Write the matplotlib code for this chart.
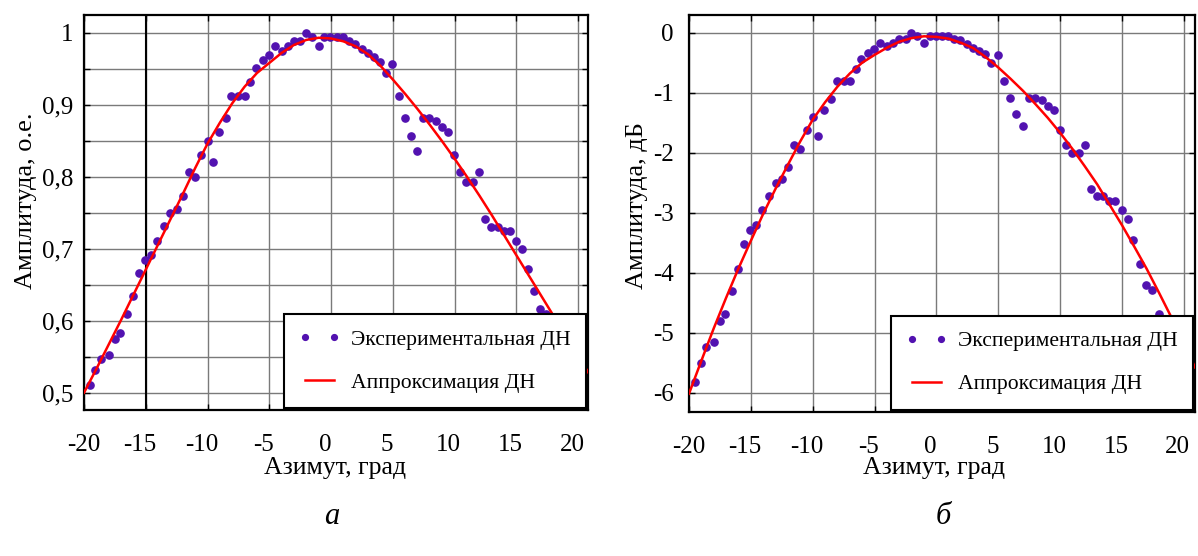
import matplotlib
matplotlib.use("Agg")
import matplotlib.pyplot as plt
import matplotlib.transforms as mtransforms

plt.rcParams['font.family'] = ['Liberation Serif', 'DejaVu Serif']

# Экспериментальные точки (азимут, град)
azimut = [-19.55, -19.07, -18.6, -18.0, -17.5, -17.05, -16.5, -16.04, -15.56, -15.03,
          -14.56, -14.1, -13.5, -13.0, -12.5, -11.97, -11.5, -11.0, -10.5, -10.0,
          -9.55, -9.06, -8.5, -8.07, -7.5, -7.0, -6.53, -6.07, -5.5, -5.05,
          -4.53, -4.0, -3.5, -3.0, -2.5, -2.02, -1.54, -1.0, -0.54, -0.05,
          0.49, 0.97, 1.46, 1.94, 2.48, 2.97, 3.45, 3.96, 4.45, 4.94,
          5.48, 5.96, 6.45, 6.98, 7.47, 7.95, 8.5, 8.98, 9.47, 9.98,
          10.46, 10.95, 11.49, 11.97, 12.46, 12.94, 13.48, 13.97, 14.45, 14.99,
          15.48, 15.91, 16.45, 16.94, 17.42, 17.95]

# амплитуда, о.е.
ampl = [0.511, 0.531, 0.547, 0.552, 0.575, 0.583, 0.609, 0.635, 0.666, 0.685,
        0.691, 0.711, 0.731, 0.749, 0.755, 0.773, 0.806, 0.800, 0.830, 0.850,
        0.820, 0.862, 0.881, 0.912, 0.912, 0.912, 0.932, 0.951, 0.962, 0.969,
        0.981, 0.975, 0.981, 0.988, 0.988, 1.000, 0.994, 0.981, 0.994, 0.994,
        0.994, 0.994, 0.988, 0.985, 0.978, 0.972, 0.966, 0.960, 0.944, 0.957,
        0.912, 0.882, 0.856, 0.836, 0.882, 0.882, 0.878, 0.869, 0.862, 0.830,
        0.806, 0.793, 0.793, 0.806, 0.741, 0.730, 0.730, 0.724, 0.724, 0.711,
        0.699, 0.672, 0.641, 0.616, 0.610, 0.583]

# амплитуда, дБ
ampl_db = [-5.83, -5.50, -5.24, -5.16, -4.81, -4.69, -4.31, -3.94, -3.53, -3.29,
           -3.21, -2.96, -2.72, -2.51, -2.44, -2.24, -1.87, -1.94, -1.62, -1.41,
           -1.72, -1.29, -1.10, -0.80, -0.80, -0.80, -0.61, -0.44, -0.34, -0.27,
           -0.17, -0.22, -0.17, -0.10, -0.10, 0.00, -0.05, -0.17, -0.05, -0.05,
           -0.05, -0.05, -0.10, -0.13, -0.19, -0.25, -0.30, -0.35, -0.50, -0.38,
           -0.80, -1.09, -1.35, -1.56, -1.09, -1.09, -1.13, -1.22, -1.29, -1.62,
           -1.87, -2.01, -2.01, -1.87, -2.60, -2.73, -2.73, -2.81, -2.81, -2.96,
           -3.11, -3.45, -3.86, -4.21, -4.29, -4.69]

# Аппроксимация ДН
az_fit = [-20, -19, -18, -17, -16, -15, -14, -13, -12, -11, -10, -9, -8, -7, -6, -5,
          -4, -3, -2, -1, 0, 1, 2, 3, 4, 5, 6, 7, 8, 9, 10, 11, 12, 13, 14, 15,
          16, 17, 18, 19, 20, 20.9]
ampl_fit = [0.500, 0.533, 0.567, 0.601, 0.636, 0.671, 0.706, 0.741, 0.776, 0.812,
            0.846, 0.875, 0.902, 0.925, 0.944, 0.958, 0.972, 0.983, 0.990, 0.993,
            0.992, 0.988, 0.981, 0.970, 0.954, 0.935, 0.915, 0.894, 0.872, 0.849,
            0.825, 0.800, 0.774, 0.747, 0.719, 0.691, 0.663, 0.635, 0.607, 0.579,
            0.551, 0.526]
db_fit = [-6.02, -5.47, -4.93, -4.42, -3.93, -3.47, -3.02, -2.60, -2.20, -1.81,
          -1.45, -1.16, -0.90, -0.68, -0.50, -0.37, -0.25, -0.15, -0.09, -0.06,
          -0.07, -0.10, -0.17, -0.26, -0.41, -0.58, -0.77, -0.97, -1.19, -1.42,
          -1.67, -1.94, -2.23, -2.53, -2.87, -3.21, -3.57, -3.94, -4.34, -4.75,
          -5.18, -5.58]

xticks = [-20, -15, -10, -5, 0, 5, 10, 15, 20]
xticklabels = ['-20', '-15', '-10', '-5', '0', '5', '10', '15', '20']
yticks1 = [0.5, 0.6, 0.7, 0.8, 0.9, 1.0]
yticks1_minor = [0.5, 0.55, 0.6, 0.65, 0.7, 0.75, 0.8, 0.85, 0.9, 0.95, 1.0]
yticklabels1 = ['0,5', '0,6', '0,7', '0,8', '0,9', '1']
yticks2 = [-6, -5, -4, -3, -2, -1, 0]
yticklabels2 = ['-6', '-5', '-4', '-3', '-2', '-1', '0']

dot_color = '#5212b0'
W, H = 1198, 556
fig = plt.figure(figsize=(W / 100, H / 100), dpi=100)
ax1 = fig.add_axes([84 / W, 1 - 410 / H, 504 / W, 395 / H])
ax2 = fig.add_axes([689 / W, 1 - 411.7 / H, 506 / W, 396.7 / H])
sdvig = mtransforms.ScaledTranslation(-6 / 100, 0, fig.dpi_scale_trans)


def oformit(ax):
    ax.set_xticks(xticks)
    ax.set_xticklabels(xticklabels)
    ax.grid(True, which='both', color='#7a7a7a', lw=1)
    ax.set_axisbelow(True)
    ax.tick_params(which='both', direction='in', top=True, right=True,
                   length=4, width=1, labelsize=18)
    ax.tick_params(axis='x', pad=17.5)
    for lab in ax.get_xticklabels()[1:]:
        lab.set_transform(lab.get_transform() + sdvig)
    for s in ax.spines.values():
        s.set_linewidth(1.6)
    ax.legend(loc='lower right', numpoints=2, fontsize=15.6, frameon=True,
              fancybox=False, framealpha=1, edgecolor='black',
              borderaxespad=0.1, borderpad=0.7, labelspacing=1.05,
              handlelength=1.9, handletextpad=0.5, markerscale=0.8
              ).get_frame().set_linewidth(1.5)


# а) амплитуда в относительных единицах
ax1.plot(azimut, ampl, 'o', ms=5.2, color=dot_color, zorder=2.5,
         label='Экспериментальная ДН')
ax1.plot(az_fit, ampl_fit, '-', color='red', lw=1.8, zorder=3,
         label='Аппроксимация ДН')
ax1.axvline(-15, color='black', lw=1.5, zorder=2)
ax1.set_yticks(yticks1)
ax1.set_yticklabels(yticklabels1)
ax1.set_yticks(yticks1_minor, minor=True)
ax1.set_xlim(-20, 20.8)
ax1.set_ylim(0.476, 1.0246)
ax1.tick_params(axis='y', pad=8)
ax1.set_xlabel('Азимут, град', fontsize=18.5)
ax1.set_ylabel('Амплитуда, о.е.', fontsize=19)
ax1.xaxis.set_label_coords(0.498, -0.118)
ax1.yaxis.set_label_coords(-0.093, 0.529)
oformit(ax1)

# б) амплитуда в дБ
ax2.plot(azimut, ampl_db, 'o', ms=5.2, color=dot_color, zorder=2.5,
         label='Экспериментальная ДН')
ax2.plot(az_fit, db_fit, '-', color='red', lw=1.8, zorder=3,
         label='Аппроксимация ДН')
ax2.set_yticks(yticks2)
ax2.set_yticklabels(yticklabels2)
ax2.set_xlim(-20, 20.9)
ax2.set_ylim(-6.32, 0.295)
ax2.tick_params(axis='y', pad=11)
ax2.set_xlabel('Азимут, град', fontsize=18.5)
ax2.set_ylabel('Амплитуда, дБ', fontsize=19)
ax2.xaxis.set_label_coords(0.484, -0.115)
ax2.yaxis.set_label_coords(-0.081, 0.519)
oformit(ax2)

fig.text(332 / W, 1 - 517 / H, 'а', fontsize=22, style='italic',
         ha='center', va='center')
fig.text(943 / W, 1 - 517 / H, 'б', fontsize=22, style='italic',
         ha='center', va='center')

fig.savefig('out.png', dpi=100)
